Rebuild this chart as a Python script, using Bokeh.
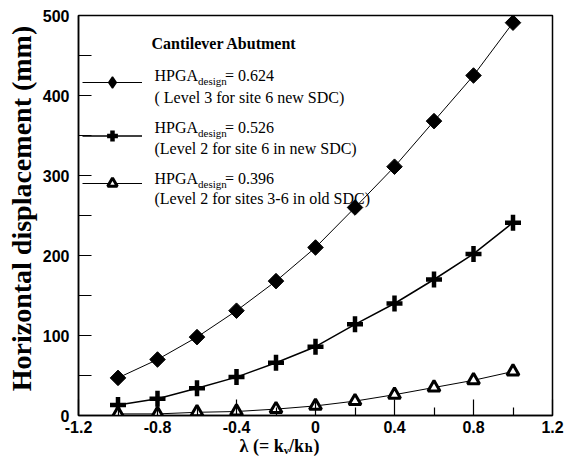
import math
from bokeh.plotting import figure
from bokeh.models import Label, Legend, LegendItem, FixedTicker, Range1d
from bokeh.embed import file_html
from bokeh.resources import INLINE

# ---- data ----
lam = [-1.0, -0.8, -0.6, -0.4, -0.2, 0.0, 0.2, 0.4, 0.6, 0.8, 1.0]
disp_0624 = [47, 70, 98, 131, 168, 210, 260, 311, 368, 425, 491]
disp_0526 = [13, 21, 34, 48, 66, 86, 114, 140, 170, 202, 241]
disp_0396 = [2, 2, 4, 5, 8, 12, 18, 26, 35, 44, 55]

x_ticks = [-1.2, -0.8, -0.4, 0, 0.4, 0.8, 1.2]
x_tick_labels = ["-1.2", "-0.8", "-0.4", "0", "0.4", "0.8", "1.2"]
x_minor = [-1.0, -0.6, -0.2, 0.2, 0.6, 1.0]
y_ticks = [0, 100, 200, 300, 400, 500]
y_minor = [50, 150, 250, 350, 450]

legend_title = "Cantilever Abutment"
legend_values = ["= 0.624", "= 0.526", "= 0.396"]
legend_notes = ["( Level 3 for site 6 new SDC)",
                "(Level 2 for site 6 in new SDC)",
                "(Level 2 for sites 3-6 in old SDC)"]
y_title = "Horizontal displacement (mm)"
x_title = "λ (= kᵥ/kₕ)"

SERIF = "Liberation Serif"
SERIF_FB = "'Liberation Serif', 'DejaVu Serif', serif"
SANS = "Liberation Sans"

# frame position inside the canvas
FL, FT, FW, FH = 78, 15, 474, 400
W, H = 569, 460

p = figure(width=W, height=H, x_range=Range1d(-1.2, 1.2), y_range=Range1d(0, 500),
           output_backend="svg", toolbar_location=None,
           min_border_left=FL, min_border_top=FT,
           min_border_right=W - FL - FW, min_border_bottom=H - FT - FH)
p.background_fill_color = "white"
p.border_fill_color = "white"
p.outline_line_color = "black"
p.outline_line_width = 1.5
p.xgrid.visible = False
p.ygrid.visible = False

p.xaxis.ticker = FixedTicker(ticks=x_ticks, minor_ticks=x_minor)
p.xaxis.major_label_overrides = {t: s for t, s in zip(x_ticks, x_tick_labels)}
p.yaxis.ticker = FixedTicker(ticks=y_ticks, minor_ticks=y_minor)
for ax in (p.xaxis, p.yaxis):
    ax.axis_line_width = 1.5
    ax.axis_line_color = "black"
    ax.major_tick_line_color = "black"
    ax.minor_tick_line_color = "black"
    ax.major_tick_line_width = 1.2
    ax.minor_tick_line_width = 1.2
    ax.major_tick_out = 0
    ax.minor_tick_out = 0
    ax.major_label_text_font = SANS
    ax.major_label_text_font_style = "bold"
    ax.major_label_text_font_size = "16px"
    ax.major_label_text_color = "black"
    ax.axis_label_text_font_style = "bold"
    ax.axis_label_text_color = "black"
p.xaxis.major_tick_in = 16
p.xaxis.minor_tick_in = 8
p.yaxis.major_tick_in = 13
p.yaxis.minor_tick_in = 13
p.xaxis.major_label_standoff = 5
p.yaxis.major_label_standoff = 9

# axis titles (both sit slightly off-centre in the reference)
p.yaxis.axis_label = "\u2002" + y_title
p.yaxis.axis_label_text_font = SERIF
p.yaxis.axis_label_text_font_size = "28px"
p.yaxis.axis_label_standoff = 3
p.xaxis.axis_label = x_title + "\u2003\u2003\u2003\u2003"
p.xaxis.axis_label_text_font = SERIF_FB
p.xaxis.axis_label_text_font_size = "18px"
p.xaxis.axis_label_standoff = 0

# ---- series ----
l1 = p.line(lam, disp_0624, line_color="black", line_width=1)
m1 = p.scatter(lam, disp_0624, marker="square", angle=math.pi / 4, size=11,
               fill_color="black", line_color="black")
l2 = p.line(lam, disp_0526, line_color="black", line_width=1.5)
m2 = p.scatter(lam, disp_0526, marker="cross", size=16, line_width=4.5, line_color="black")
l3 = p.line(lam, disp_0396, line_color="black", line_width=1)
m3 = p.scatter(lam, disp_0396, marker="triangle", size=12, line_width=3,
               fill_color="white", line_color="black")
# legend-only marker for the diamond series (legend ignores marker angle)
m1_leg = p.scatter(lam, disp_0624, marker="diamond", fill_color="black",
                   line_color="black", line_width=1.5, visible=False)


def img_to_frame(ix, iy):
    # picture coords -> frame-relative screen coords (origin bottom-left)
    return ix - FL, (FT + FH) - iy


def add_text(txt, ix, iy, size, style="normal", font=SERIF, align="left",
             baseline="alphabetic"):
    x, y = img_to_frame(ix, iy)
    p.add_layout(Label(x=x, y=y, x_units="screen", y_units="screen", text=txt,
                       text_font=font, text_font_size=f"{size}px",
                       text_font_style=style, text_align=align,
                       text_baseline=baseline, text_color="black"))


# ---- legend samples ----
leg_centers = [82, 135, 183]
leg_gh = [28, 27, 24]
for (lr, mr), c, gh in zip([(l1, m1_leg), (l2, m2), (l3, m3)], leg_centers, leg_gh):
    lx, ly = img_to_frame(82, c + gh / 2)
    leg = Legend(items=[LegendItem(label=" ", renderers=[lr, mr])],
                 location=(lx, ly), glyph_width=60, glyph_height=gh,
                 label_height=gh, label_width=1, label_standoff=0,
                 label_text_font_size="1px", padding=0, margin=0, spacing=0,
                 border_line_alpha=0, background_fill_alpha=0)
    p.add_layout(leg)

# ---- legend texts (baselines) ----
add_text(legend_title, 151, 43, 16, style="bold")
val_base = [75, 127, 178]
note_base = [97, 147.5, 198]
for v, n, vb, nb in zip(legend_values, legend_notes, val_base, note_base):
    add_text("HPGA", 154, vb, 16)
    add_text("design", 197.5, vb + 5, 11)
    add_text(v, 224.5, vb, 16)
    add_text(n, 154, nb, 16)

open("out.html", "w").write(file_html(p, INLINE))
